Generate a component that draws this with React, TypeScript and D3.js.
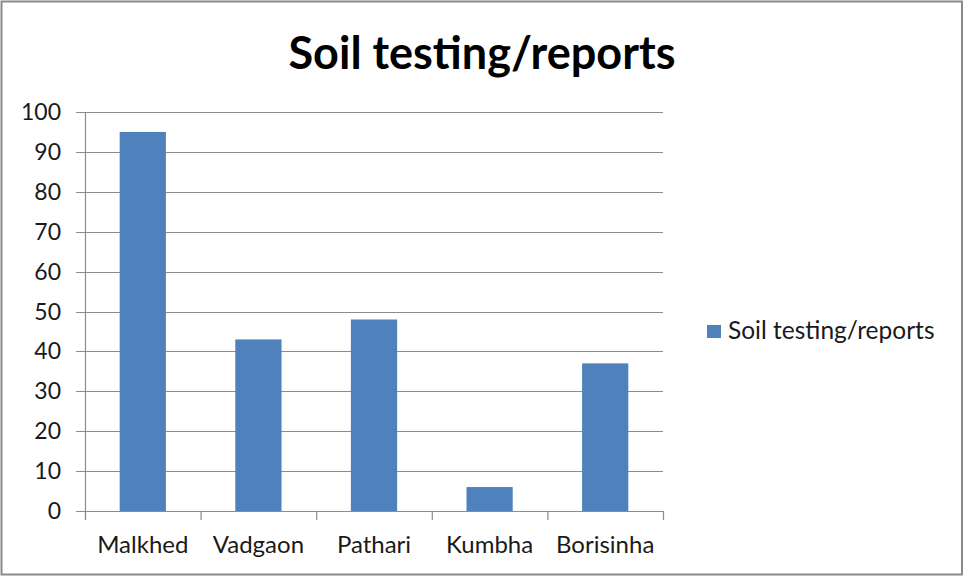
import React from "react";
import * as d3 from "d3";

const categories: string[] = ["Malkhed", "Vadgaon", "Pathari", "Kumbha", "Borisinha"];
const values: number[] = [95, 43, 48, 6, 37];
const yTicks: number[] = [0, 10, 20, 30, 40, 50, 60, 70, 80, 90, 100];
const seriesName = "Soil testing/reports";
const title = "Soil testing/reports";

const W = 964;
const H = 577;
const FONT = "Lato, 'Open Sans', sans-serif";

export default function App() {
  const left = 85;
  const right = 663;
  const top = 112;
  const bottom = 511;

  const x = d3.scaleBand<string>().domain(categories).range([left, right]).paddingInner(0.6).paddingOuter(0.3);
  const y = d3.scaleLinear().domain([0, 100]).range([bottom, top]);
  const step = x.step();
  const tickXs = d3.range(categories.length + 1).map((i) => left + i * step);

  return (
    <svg width={W} height={H} style={{ position: "absolute", left: 0, top: 0, background: "#fff" }}>
      <rect x={1.5} y={1.5} width={960.5} height={573} fill="#fff" stroke="#8a8a8a" strokeWidth={2} />
      <text x={482} y={69} textAnchor="middle" fontFamily={FONT} fontWeight={700} fontSize={45} fill="#000">
        {title}
      </text>
      {yTicks.map((t) => (
        <g key={t}>
          <line x1={left - 9} x2={right} y1={Math.round(y(t)) + 0.5} y2={Math.round(y(t)) + 0.5} stroke="#8c8c8c" strokeWidth={1.2} />
          <text x={61} y={y(t) + 8} textAnchor="end" fontFamily={FONT} fontSize={23} fill="#1a1a1a">
            {t}
          </text>
        </g>
      ))}
      <line x1={left + 0.5} x2={left + 0.5} y1={top} y2={bottom + 9} stroke="#8c8c8c" strokeWidth={1.2} />
      {tickXs.map((tx, i) => (
        <line key={i} x1={tx + 0.5} x2={tx + 0.5} y1={bottom} y2={bottom + 9} stroke="#8c8c8c" strokeWidth={1.2} />
      ))}
      {categories.map((c, i) => (
        <rect key={c} x={x(c)} y={y(values[i])} width={x.bandwidth()} height={bottom - y(values[i])} fill="#4F81BD" />
      ))}
      {categories.map((c) => (
        <text key={c} x={(x(c) as number) + x.bandwidth() / 2} y={553} textAnchor="middle" fontFamily={FONT} fontSize={24} fill="#1a1a1a">
          {c}
        </text>
      ))}
      <rect x={707} y={325} width={14} height={13} fill="#4F81BD" />
      <text x={728} y={339} fontFamily={FONT} fontSize={24.5} fill="#1a1a1a">
        {seriesName}
      </text>
    </svg>
  );
}
